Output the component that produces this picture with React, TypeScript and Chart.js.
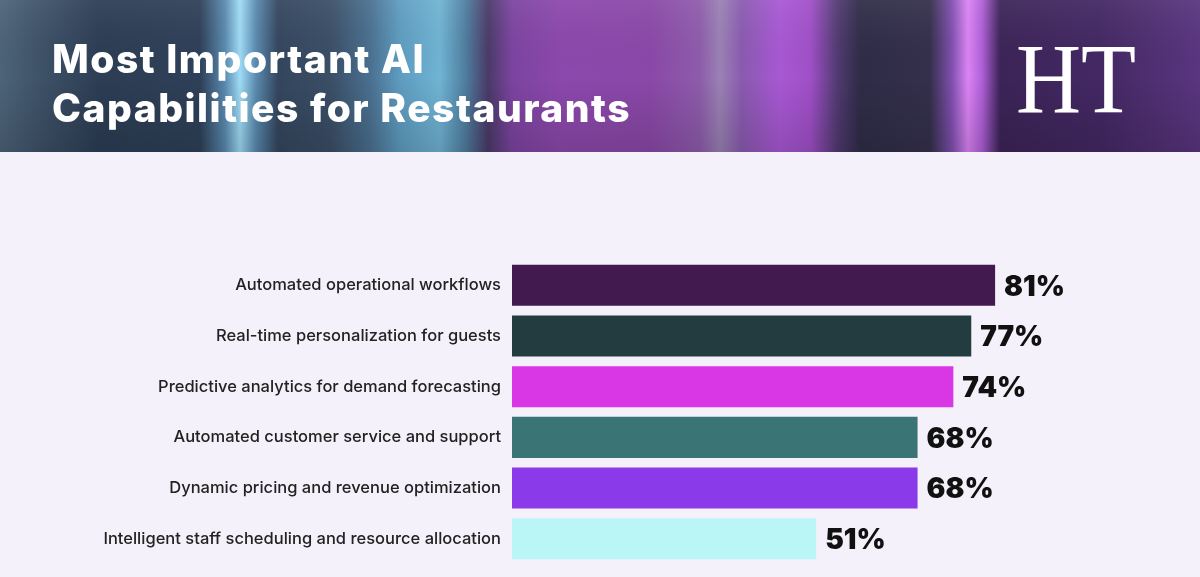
import React, { useEffect, useRef } from "react";
import { Chart, registerables } from "chart.js";

Chart.register(...registerables);

// Survey results: share of respondents naming each AI capability
const categories = [
  "Automated operational workflows",
  "Real-time personalization for guests",
  "Predictive analytics for demand forecasting",
  "Automated customer service and support",
  "Dynamic pricing and revenue optimization",
  "Intelligent staff scheduling and resource allocation",
];
const values = [81, 77, 74, 68, 68, 51];
const barColors = ["#431a4f", "#223c40", "#d936e6", "#3b7474", "#8b3aea", "#bbf6f7"];
const titleLines = ["Most Important AI", "Capabilities for Restaurants"];
const logoText = "HT";

const PAGE_BG = "#f4f1fa";
const HEADER_H = 152;

// Horizontal colour bands of the banner (position in px, colour)
const bannerStops: [number, string][] = [
  [0, "#4d6479"],
  [40, "#3e5268"],
  [100, "#2c3d54"],
  [200, "#2e4058"],
  [225, "#5a8ab0"],
  [240, "#a0dcf5"],
  [256, "#5a8ab0"],
  [278, "#34465e"],
  [330, "#3a4e66"],
  [370, "#4a7090"],
  [400, "#5e9cc0"],
  [440, "#70b4d4"],
  [465, "#4f7fa0"],
  [488, "#4a3a68"],
  [512, "#7c44a0"],
  [560, "#8c48ac"],
  [650, "#8a48a8"],
  [700, "#8e5cac"],
  [720, "#9a82b4"],
  [742, "#8a5ab0"],
  [780, "#a858d4"],
  [810, "#a050c8"],
  [838, "#503a70"],
  [860, "#2f2c48"],
  [930, "#34304c"],
  [952, "#8050b0"],
  [968, "#dc84f4"],
  [982, "#b060d8"],
  [1000, "#3c2458"],
  [1100, "#432863"],
  [1200, "#5a3580"],
];

const bannerPlugin = {
  id: "banner",
  beforeDraw(chart: any) {
    const { ctx, width, height } = chart;
    ctx.save();
    ctx.fillStyle = PAGE_BG;
    ctx.fillRect(0, 0, width, height);

    const g = ctx.createLinearGradient(0, 0, width, 0);
    bannerStops.forEach(([x, c]) => g.addColorStop(Math.min(1, x / width), c));
    ctx.fillStyle = g;
    ctx.fillRect(0, 0, width, HEADER_H);

    const shade = ctx.createLinearGradient(0, 0, 0, HEADER_H);
    shade.addColorStop(0, "rgba(255,255,255,0.06)");
    shade.addColorStop(0.5, "rgba(0,0,0,0)");
    shade.addColorStop(1, "rgba(0,0,0,0.14)");
    ctx.fillStyle = shade;
    ctx.fillRect(0, 0, width, HEADER_H);

    ctx.fillStyle = "#ffffff";
    ctx.textAlign = "left";
    ctx.textBaseline = "alphabetic";
    ctx.font = '800 39px "Inter", sans-serif';
    ctx.letterSpacing = "1.5px";
    ctx.fillText(titleLines[0], 52, 73);
    ctx.fillText(titleLines[1], 52, 122);
    ctx.letterSpacing = "0px";

    ctx.save();
    ctx.translate(1016, 112);
    ctx.scale(0.9, 1);
    ctx.font = '400 100px "Liberation Serif", serif';
    ctx.fillText(logoText, 0, 0);
    ctx.restore();
    ctx.restore();
  },
};

const valueLabelPlugin = {
  id: "valueLabels",
  afterDatasetsDraw(chart: any) {
    const { ctx } = chart;
    const meta = chart.getDatasetMeta(0);
    ctx.save();
    ctx.fillStyle = "#111111";
    ctx.font = '900 28px "Inter", sans-serif';
    ctx.textAlign = "left";
    ctx.textBaseline = "middle";
    meta.data.forEach((bar: any, i: number) => {
      ctx.fillText(`${values[i]}%`, bar.x + 9, bar.y + 2);
    });
    ctx.restore();
  },
};

export default function App() {
  const canvasRef = useRef<HTMLCanvasElement | null>(null);

  useEffect(() => {
    if (!canvasRef.current) return;
    const chart = new Chart(canvasRef.current, {
      type: "bar",
      data: {
        labels: categories,
        datasets: [
          {
            data: values,
            backgroundColor: barColors,
            borderWidth: 0,
            categoryPercentage: 0.81,
            barPercentage: 1,
          },
        ],
      },
      options: {
        indexAxis: "y",
        responsive: true,
        maintainAspectRatio: false,
        animation: false,
        layout: { padding: { top: 260, bottom: 0, left: 0, right: 20 } },
        plugins: { legend: { display: false }, tooltip: { enabled: false } },
        scales: {
          x: { display: false, min: 0, max: 112 },
          y: {
            grid: { display: false },
            border: { display: false },
            ticks: {
              color: "#222222",
              font: { family: "Inter", size: 16.5, weight: "500" },
              padding: 3,
            },
            afterFit(axis: any) {
              axis.width = 512;
            },
          },
        },
      },
      plugins: [bannerPlugin, valueLabelPlugin],
    });
    return () => chart.destroy();
  }, []);

  return (
    <div style={{ position: "fixed", left: 0, top: 0, width: 1200, height: 577, background: PAGE_BG }}>
      <canvas ref={canvasRef} />
    </div>
  );
}
